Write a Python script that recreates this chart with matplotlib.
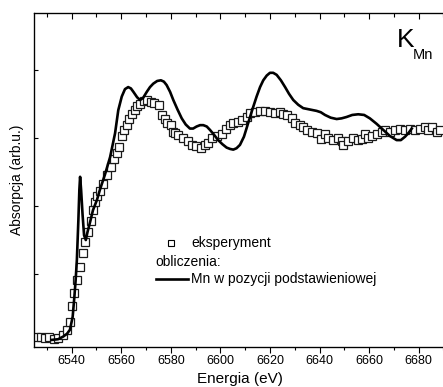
import matplotlib
matplotlib.use('Agg')
import matplotlib.pyplot as plt
from matplotlib.ticker import MultipleLocator

plt.rcParams['font.family'] = ['Liberation Sans', 'DejaVu Sans']

# eksperyment
exp_e = [6525.6, 6527.5, 6529.2, 6530.9, 6532.9, 6534.5, 6536.4, 6538.1, 6539.3, 6540.0,
         6540.9, 6542.0, 6543.4, 6544.4, 6545.4, 6546.7, 6547.6, 6548.5, 6549.4, 6550.4,
         6551.4, 6552.6, 6554.1, 6555.7, 6557.1, 6558.1, 6559.1, 6560.4, 6561.1, 6562.2,
         6563.1, 6564.5, 6565.5, 6566.5, 6567.6, 6569.2, 6570.5, 6571.9, 6573.2, 6575.2,
         6576.6, 6577.6, 6578.6, 6580.0, 6581.0, 6581.7, 6583.0, 6585.0, 6587.0, 6588.4,
         6590.2, 6592.0, 6593.8, 6595.1, 6596.5, 6598.5, 6600.5, 6602.3, 6603.9, 6605.2,
         6607.3, 6608.6, 6610.6, 6612.0, 6614.0, 6616.0, 6618.0, 6620.0, 6622.0, 6624.0,
         6625.4, 6626.7, 6628.8, 6630.1, 6632.1, 6633.4, 6634.8, 6636.8, 6638.8, 6640.5,
         6642.2, 6643.5, 6645.5, 6647.6, 6648.9, 6649.6, 6651.6, 6653.6, 6655.6, 6657.0,
         6658.3, 6659.7, 6661.0, 6663.0, 6665.1, 6666.4, 6668.4, 6670.4, 6672.4, 6674.5,
         6676.5, 6678.5, 6680.5, 6682.5, 6683.9, 6685.2, 6687.2, 6688.6]
exp_y = [0.07, 0.07, 0.06, 0.07, 0.05, 0.06, 0.10, 0.17, 0.30, 0.53,
         0.72, 0.91, 1.10, 1.31, 1.47, 1.62, 1.78, 1.94, 2.06, 2.15,
         2.22, 2.32, 2.46, 2.57, 2.69, 2.78, 2.87, 3.03, 3.12, 3.19,
         3.28, 3.35, 3.42, 3.47, 3.50, 3.55, 3.56, 3.53, 3.51, 3.49,
         3.34, 3.28, 3.22, 3.19, 3.09, 3.07, 3.04, 3.00, 2.95, 2.90,
         2.88, 2.86, 2.90, 2.93, 3.00, 3.03, 3.06, 3.14, 3.19, 3.22,
         3.24, 3.26, 3.31, 3.37, 3.39, 3.40, 3.40, 3.39, 3.37, 3.39,
         3.36, 3.34, 3.29, 3.22, 3.19, 3.16, 3.12, 3.09, 3.07, 2.98,
         3.06, 3.00, 2.97, 3.00, 2.95, 2.90, 2.95, 3.00, 2.97, 2.98,
         3.06, 3.00, 3.03, 3.06, 3.09, 3.12, 3.09, 3.12, 3.14, 3.12,
         3.14, 3.12, 3.14, 3.17, 3.12, 3.17, 3.09, 3.12]

# obliczenia: Mn w pozycji podstawieniowej
calc_e = [6531.9, 6534.5, 6536.6, 6538.1, 6539.3, 6540.4, 6541.1, 6541.6, 6542.1, 6542.7,
          6543.1, 6543.4, 6543.8, 6544.4, 6545.0, 6545.7, 6546.4, 6547.4, 6548.6, 6550.2,
          6551.4, 6553.4, 6555.5, 6557.5, 6558.8, 6560.2, 6561.5, 6562.8, 6563.9, 6564.9,
          6566.4, 6567.6, 6568.8, 6570.3, 6571.6, 6572.9, 6574.5, 6576.0, 6577.2, 6578.3,
          6579.7, 6581.0, 6582.7, 6584.4, 6586.0, 6587.7, 6589.0, 6590.4, 6591.8, 6593.1,
          6594.5, 6595.8, 6597.4, 6599.1, 6600.8, 6602.5, 6603.9, 6605.2, 6606.5, 6607.9,
          6609.5, 6611.2, 6612.9, 6614.6, 6616.0, 6617.3, 6618.7, 6620.0, 6621.3, 6622.7,
          6624.4, 6626.1, 6627.7, 6629.4, 6631.4, 6633.4, 6636.1, 6638.8, 6640.5, 6642.2,
          6644.5, 6646.9, 6648.9, 6650.9, 6653.2, 6655.6, 6658.0, 6660.3, 6663.0, 6665.7,
          6668.4, 6671.1, 6672.8, 6674.5, 6676.0, 6677.2]
calc_y = [0.03, 0.04, 0.08, 0.12, 0.18, 0.37, 0.67, 0.91, 1.21, 1.79,
          2.24, 2.43, 2.24, 1.87, 1.57, 1.50, 1.62, 1.76, 1.94, 2.09,
          2.24, 2.46, 2.72, 3.07, 3.41, 3.61, 3.72, 3.75, 3.73, 3.68,
          3.60, 3.56, 3.59, 3.68, 3.75, 3.80, 3.84, 3.85, 3.83, 3.78,
          3.68, 3.56, 3.42, 3.29, 3.20, 3.14, 3.14, 3.17, 3.19, 3.19,
          3.17, 3.12, 3.05, 2.97, 2.91, 2.86, 2.84, 2.83, 2.85, 2.90,
          3.02, 3.22, 3.42, 3.61, 3.75, 3.85, 3.92, 3.96, 3.96, 3.93,
          3.85, 3.75, 3.65, 3.56, 3.49, 3.44, 3.42, 3.40, 3.38, 3.34,
          3.30, 3.28, 3.29, 3.31, 3.34, 3.35, 3.34, 3.29, 3.21, 3.12,
          3.03, 2.97, 2.97, 3.02, 3.08, 3.14]

fig = plt.figure(figsize=(4.43, 3.87), dpi=100)
ax = fig.add_axes([34 / 443, 40 / 387, 1.005 - 34 / 443, 334 / 387])

ax.plot(exp_e, exp_y, linestyle='none', marker='s', markersize=5.5,
        markerfacecolor='white', markeredgecolor='#1a1a1a', markeredgewidth=0.9)
ax.plot(calc_e, calc_y, color='black', linewidth=1.9, solid_joinstyle='round')

ax.set_xlim(6524.8, 6690.7)
ax.set_ylim(-0.074, 4.84)

ax.xaxis.set_major_locator(MultipleLocator(20))
ax.xaxis.set_minor_locator(MultipleLocator(10))
ax.set_yticks([1, 2, 3, 4])
ax.set_yticklabels([])
ax.tick_params(axis='x', which='both', direction='out', labelsize=9, pad=2)
ax.tick_params(axis='x', which='major', length=4, width=0.8)
ax.tick_params(axis='x', which='minor', length=2.5, width=0.8)
ax.tick_params(axis='y', direction='in', length=3, width=0.8, right=False)
for s in ax.spines.values():
    s.set_linewidth(0.9)

# top ticks point inward
top = ax.twiny()
top.set_xlim(ax.get_xlim())
top.xaxis.set_major_locator(MultipleLocator(20))
top.xaxis.set_minor_locator(MultipleLocator(10))
top.tick_params(axis='x', which='both', direction='in', labeltop=False, width=0.8)
top.tick_params(axis='x', which='major', length=4)
top.tick_params(axis='x', which='minor', length=3)

ax.set_xlabel('Energia (eV)', fontsize=11, labelpad=3)
ax.set_ylabel('Absorpcja (arb.u.)', fontsize=10, labelpad=4)

ax.text(0.882, 0.955, 'K', transform=ax.transAxes, fontsize=19, va='top', ha='left')
ax.text(0.922, 0.895, 'Mn', transform=ax.transAxes, fontsize=10.5, va='top', ha='left')

# legenda
ax.plot([0.333], [0.31], transform=ax.transAxes, linestyle='none', marker='s',
        markersize=4.5, markerfacecolor='white', markeredgecolor='black',
        markeredgewidth=0.8)
ax.text(0.383, 0.31, 'eksperyment', transform=ax.transAxes, fontsize=10, va='center')
ax.text(0.296, 0.255, 'obliczenia:', transform=ax.transAxes, fontsize=10, va='center')
ax.plot([0.296, 0.374], [0.204, 0.204], transform=ax.transAxes, color='black',
        linewidth=1.9)
ax.text(0.383, 0.204, 'Mn w pozycji podstawieniowej', transform=ax.transAxes,
        fontsize=10, va='center')

fig.savefig('out.png', dpi=100)
